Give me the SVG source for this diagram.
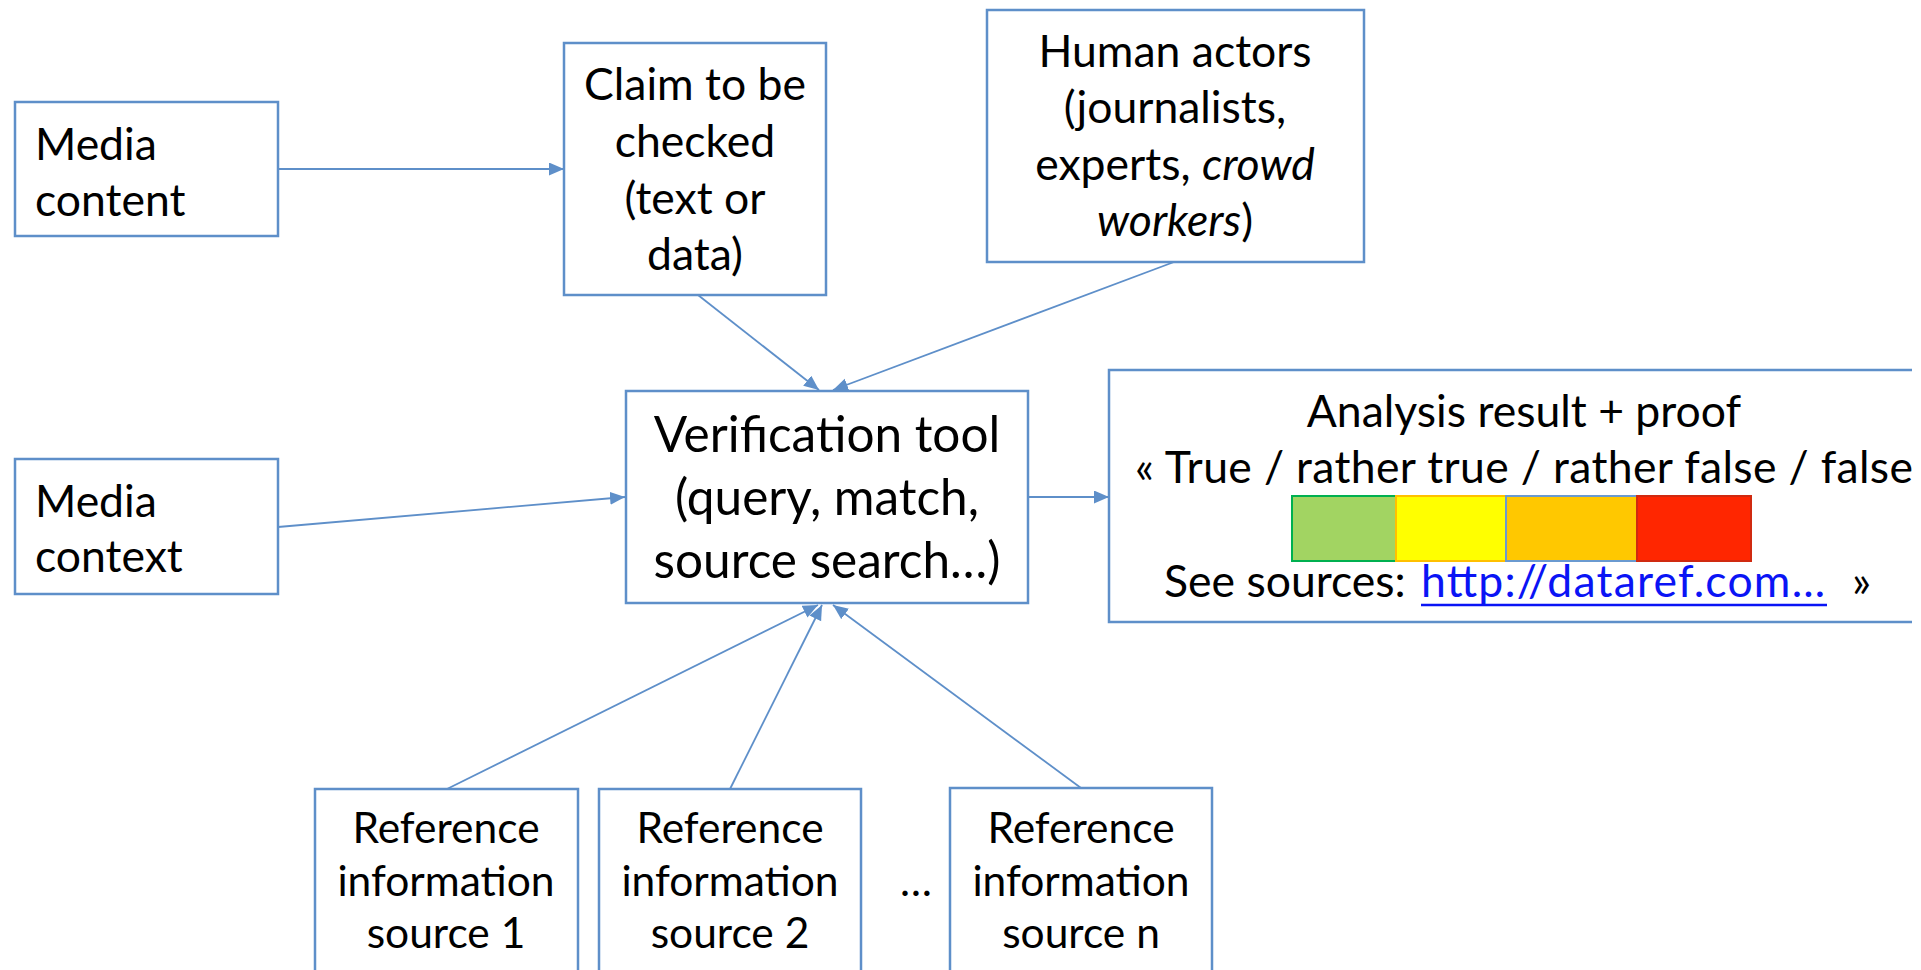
<svg xmlns="http://www.w3.org/2000/svg" width="1921" height="970" viewBox="0 0 1921 970">
<defs>
<style>
.box{fill:#fff;stroke:#5E8FC9;stroke-width:2.5}
.t{font-family:Lato,"Open Sans","Liberation Sans",sans-serif;font-size:44.5px;fill:#000}
.c{text-anchor:middle}
.v{font-size:49.5px}
.s{font-size:42.5px}
.conn line{stroke:#5E8FC9;stroke-width:1.8;fill:none}
.it{font-style:italic}
</style>
<marker id="ah" markerUnits="userSpaceOnUse" markerWidth="16" markerHeight="14" refX="15" refY="6.5" orient="auto">
<path d="M0,0 L15,6.5 L0,13 z" fill="#5E8FC9"/>
</marker>
</defs>
<rect width="1921" height="970" fill="#fff"/>

<g id="connectors" class="conn">
<line x1="278" y1="169" x2="564" y2="169" marker-end="url(#ah)"/>
<line x1="698" y1="295" x2="819" y2="390" marker-end="url(#ah)"/>
<line x1="1174" y1="262" x2="833" y2="390" marker-end="url(#ah)"/>
<line x1="278" y1="527" x2="625" y2="497" marker-end="url(#ah)"/>
<line x1="1028" y1="497" x2="1109" y2="497" marker-end="url(#ah)"/>
<line x1="447" y1="789" x2="818" y2="605" marker-end="url(#ah)"/>
<line x1="730" y1="789" x2="822" y2="605" marker-end="url(#ah)"/>
<line x1="1081" y1="788" x2="833" y2="605" marker-end="url(#ah)"/>
</g>

<g id="media-content">
<rect class="box" x="15" y="102" width="263" height="134"/>
<text class="t" x="35" y="160">Media</text>
<text class="t" x="35" y="216">content</text>
</g>

<g id="claim">
<rect class="box" x="564" y="43" width="262" height="252"/>
<text class="t c" x="695" y="100">Claim to be</text>
<text class="t c" x="695" y="157">checked</text>
<text class="t c" x="695" y="214">(text or</text>
<text class="t c" x="695" y="270">data)</text>
</g>

<g id="human-actors">
<rect class="box" x="987" y="10" width="377" height="252"/>
<text class="t c" x="1175" y="67">Human actors</text>
<text class="t c" x="1175" y="123">(journalists,</text>
<text class="t c" x="1175" y="180">experts, <tspan class="it">crowd</tspan></text>
<text class="t c" x="1175" y="236"><tspan class="it">workers</tspan>)</text>
</g>

<g id="media-context">
<rect class="box" x="15" y="459" width="263" height="135"/>
<text class="t" x="35" y="517">Media</text>
<text class="t" x="35" y="572">context</text>
</g>

<g id="verification">
<rect class="box" x="626" y="391" width="402" height="212"/>
<text class="t v c" x="827" y="452">Verification tool</text>
<text class="t v c" x="827" y="515">(query, match,</text>
<text class="t v c" x="827" y="578">source search…)</text>
</g>

<g id="analysis">
<path class="box" d="M1912,370 H1109 V622 H1912" fill="#fff"/>
<text class="t c" x="1524" y="427">Analysis result + proof</text>
<text class="t" x="1135" y="483" textLength="778">« True / rather true / rather false / false</text>
<rect x="1292" y="496" width="104" height="65" fill="#A2D462" stroke="#00B050" stroke-width="2"/>
<rect x="1396" y="496" width="110" height="65" fill="#FFFF00" stroke="#FFC000" stroke-width="2"/>
<rect x="1506" y="496" width="131" height="65" fill="#FFC800" stroke="#6A9AD0" stroke-width="2"/>
<rect x="1637" y="496" width="114" height="65" fill="#FF2600" stroke="#D02A10" stroke-width="2"/>
<text class="t" x="1164" y="597">See sources:</text>
<text class="t" x="1421" y="597" fill="#0A14F5" style="fill:#0A14F5" textLength="404">http://dataref.com…</text>
<line x1="1421" y1="605" x2="1827" y2="605" stroke="#0A14F5" stroke-width="2.5"/>
<text class="t" x="1852" y="597">»</text>
</g>

<g id="ref1">
<rect class="box" x="315" y="789" width="263" height="200"/>
<text class="t s c" x="446" y="843">Reference</text>
<text class="t s c" x="446" y="896">information</text>
<text class="t s c" x="446" y="948">source 1</text>
</g>

<g id="ref2">
<rect class="box" x="599" y="789" width="262" height="200"/>
<text class="t s c" x="730" y="843">Reference</text>
<text class="t s c" x="730" y="896">information</text>
<text class="t s c" x="730" y="948">source 2</text>
</g>

<text class="t s" x="900" y="896">…</text>

<g id="refn">
<rect class="box" x="950" y="788" width="262" height="200"/>
<text class="t s c" x="1081" y="843">Reference</text>
<text class="t s c" x="1081" y="896">information</text>
<text class="t s c" x="1081" y="948">source n</text>
</g>
</svg>
